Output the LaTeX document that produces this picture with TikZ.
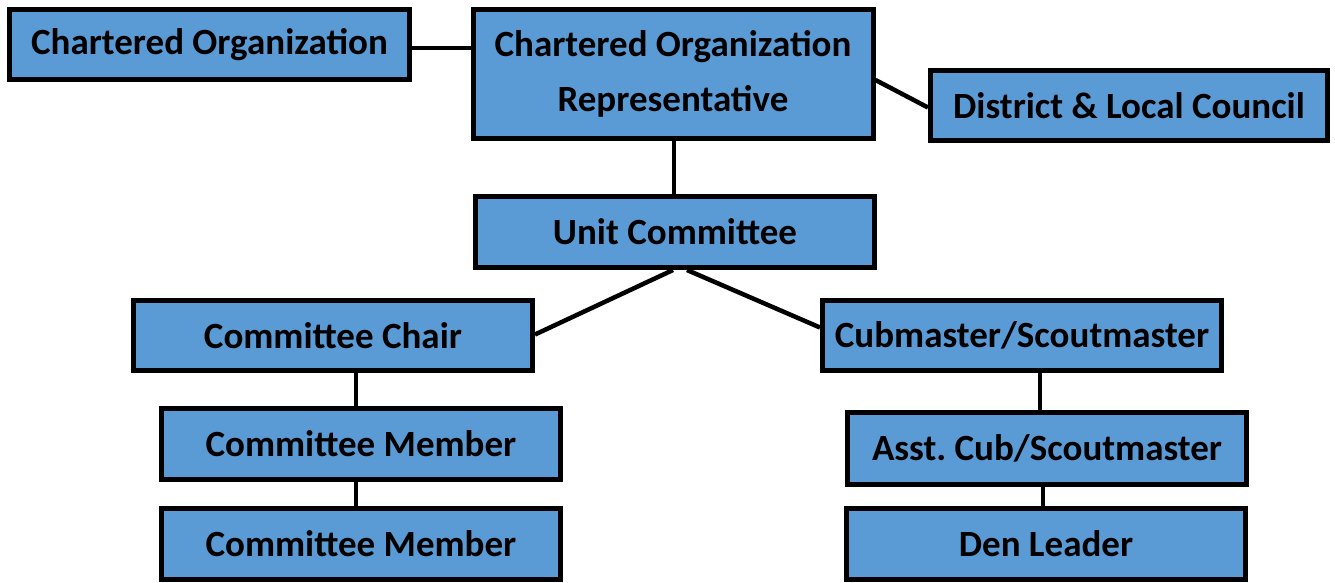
\documentclass[tikz,border=0pt]{standalone}
\usepackage{fontspec}
\setmainfont{Carlito}
\definecolor{boxblue}{HTML}{5B9BD5}
\begin{document}
\frenchspacing
\begin{tikzpicture}[x=1pt,y=-1pt,
  orgbox/.style={draw=black, fill=boxblue, line width=5pt, minimum width=399pt, minimum height=70pt, inner sep=0pt, align=center, font=\fontsize{37}{55}\selectfont\bfseries},
  link/.style={line width=4.5pt, black}]
\useasboundingbox (0,0) rectangle (1335,582);
\node[orgbox, minimum width=400pt] (co) at (209.5,44.5) {Chartered Organization};
\node[orgbox, minimum width=400pt, minimum height=129pt] (rep) at (673,74) {Chartered Organization\\Representative};
\node[orgbox, minimum width=397pt] (dlc) at (1129,105.5) {District \& Local Council};
\node[orgbox, minimum height=71pt] (uc) at (675,232) {Unit Committee};
\node[orgbox] (chair) at (333,335.5) {Committee Chair};
\node[orgbox, minimum height=71pt] (mem1) at (361,444) {Committee Member};
\node[orgbox, minimum height=71pt] (mem2) at (361,543.5) {Committee Member};
\node[orgbox] (cub) at (1022,335.5) {Cubmaster/Scoutmaster};
\node[orgbox, minimum height=72pt] (asst) at (1047,448) {Asst. Cub/Scoutmaster};
\node[orgbox, minimum height=71pt] (den) at (1046,543.5) {Den Leader};
\coordinate (lx) at (356,0);
\coordinate (cx) at (674,0);
\coordinate (rx1) at (1040,0);
\coordinate (rx2) at (1043,0);
\draw[link] ([yshift=-3.5pt]co.east) -- ([yshift=-3.5pt]co.east -| rep.west);
\draw[link] ([yshift=-6pt]rep.east) -- ([yshift=-2pt]dlc.west);
\draw[link] (rep.south -| cx) -- (uc.north -| cx);
\draw[link] ([xshift=-2pt]uc.south) -- ([yshift=1pt]chair.east);
\draw[link] ([xshift=12pt]uc.south) -- ([yshift=8pt]cub.west);
\draw[link] (chair.south -| lx) -- (mem1.north -| lx);
\draw[link] (mem1.south -| lx) -- (mem2.north -| lx);
\draw[link] (cub.south -| rx1) -- (asst.north -| rx1);
\draw[link] (asst.south -| rx2) -- (den.north -| rx2);
\end{tikzpicture}
\end{document}
